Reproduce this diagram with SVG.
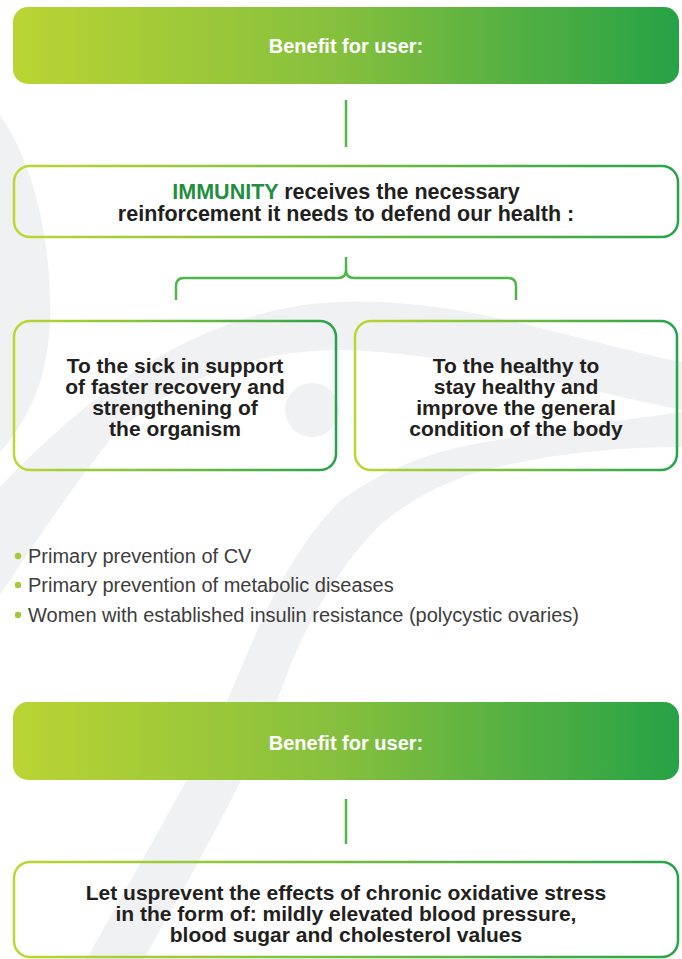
<svg xmlns="http://www.w3.org/2000/svg" width="682" height="959" viewBox="0 0 682 959">
<defs>
<linearGradient id="gBanner" x1="0" y1="0" x2="1" y2="0">
<stop offset="0" stop-color="#bad433"/>
<stop offset="0.5" stop-color="#84bf3e"/>
<stop offset="1" stop-color="#26a246"/>
</linearGradient>
<linearGradient id="gStroke" x1="0" y1="0" x2="1" y2="0">
<stop offset="0" stop-color="#bdd631"/>
<stop offset="1" stop-color="#29a349"/>
</linearGradient>
<style>
.bg{fill:#f0f1f3}
.banner{fill:url(#gBanner)}
.box{fill:none;stroke:url(#gStroke);stroke-width:2.5}
.conn{fill:none;stroke:#4db848;stroke-width:2.5}
.bt{font-family:"Liberation Sans",Arial,sans-serif;font-weight:bold;font-size:20px;fill:#ffffff;text-anchor:middle}
.tx{font-family:"Liberation Sans",Arial,sans-serif;font-weight:bold;font-size:21px;fill:#231f20;text-anchor:middle}
.li{font-family:"Liberation Sans",Arial,sans-serif;font-size:20px;fill:#3d3d3d}
.dot{fill:#a6c83a}
.em{fill:#1f8f3e}
</style>
</defs>
<rect width="682" height="959" fill="#ffffff"/>
<g id="background">
<path class="bg" d="M0,115 C35,165 52,245 50,320 C48,380 28,420 0,452 Z"/>
<path class="bg" d="M0,487 C60,425 170,318 320,303 C450,292 570,340 682,362 L682,410 C560,385 450,352 341,350 C240,350 160,390 110,440 C70,490 30,550 0,595 Z"/>
<path class="bg" d="M87,959 C130,880 195,770 227,701 C250,650 280,560 341,500 C390,465 440,450 480,443 C560,430 620,420 682,412 L682,447 C610,447 540,455 474,473 C440,485 410,500 380,525 C355,550 330,585 313,618 C295,650 285,680 277,701 C245,780 200,860 144,959 Z"/>
<circle class="bg" cx="312" cy="410" r="27"/>
</g>
<g id="connectors">
<line class="conn" x1="346" y1="100" x2="346" y2="147"/>
<path class="conn" d="M176,300 V286 Q176,278 184,278 H338 Q346,278 346,270 V257 M516,300 V286 Q516,278 508,278 H354 Q346,278 346,270"/>
<line class="conn" x1="346" y1="799" x2="346" y2="844"/>
</g>
<g id="banner-top">
<rect class="banner" x="13" y="7" width="666" height="77" rx="15"/>
<text class="bt" x="346" y="53">Benefit for user:</text>
</g>
<g id="immunity">
<rect class="box" x="14" y="166" width="664" height="71" rx="16"/>
<text class="tx" x="346" y="199" style="font-size:21.5px"><tspan class="em">IMMUNITY</tspan> receives the necessary</text>
<text class="tx" x="346" y="221" style="font-size:21.5px">reinforcement it needs to defend our health :</text>
</g>
<g id="sick">
<rect class="box" x="14" y="321" width="322" height="149" rx="16"/>
<text class="tx" x="175" y="373">To the sick in support</text>
<text class="tx" x="175" y="394">of faster recovery and</text>
<text class="tx" x="175" y="415">strengthening of</text>
<text class="tx" x="175" y="436">the organism</text>
</g>
<g id="healthy">
<rect class="box" x="355" y="321" width="322" height="149" rx="16"/>
<text class="tx" x="516" y="373">To the healthy to</text>
<text class="tx" x="516" y="394">stay healthy and</text>
<text class="tx" x="516" y="415">improve the general</text>
<text class="tx" x="516" y="436">condition of the body</text>
</g>
<g id="bullets">
<circle class="dot" cx="18" cy="556" r="3.2"/>
<text class="li" x="28" y="563">Primary prevention of CV</text>
<circle class="dot" cx="18" cy="585" r="3.2"/>
<text class="li" x="28" y="592">Primary prevention of metabolic diseases</text>
<circle class="dot" cx="18" cy="615" r="3.2"/>
<text class="li" x="28" y="622">Women with established insulin resistance (polycystic ovaries)</text>
</g>
<g id="banner-bottom">
<rect class="banner" x="13" y="702" width="666" height="78" rx="15"/>
<text class="bt" x="346" y="750">Benefit for user:</text>
</g>
<g id="prevent">
<rect class="box" x="14" y="862" width="664" height="95" rx="16"/>
<text class="tx" x="346" y="900">Let usprevent the effects of chronic oxidative stress</text>
<text class="tx" x="346" y="921">in the form of: mildly elevated blood pressure,</text>
<text class="tx" x="346" y="942">blood sugar and cholesterol values</text>
</g>
</svg>
